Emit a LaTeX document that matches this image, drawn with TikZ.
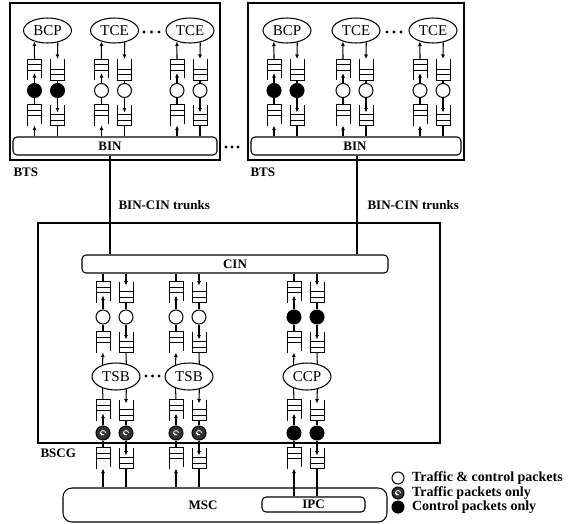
\documentclass[tikz,border=0pt]{standalone}
\usepackage{fontspec}
\setmainfont{Liberation Serif}
\usetikzlibrary{shapes.geometric,arrows.meta}

\tikzset{
  qbox/.style={minimum width=14pt, minimum height=21pt, inner sep=0pt, outer sep=0pt},
  qline/.style={line width=0.85pt},
  proc/.style={ellipse, draw, minimum width=48pt, minimum height=25pt, inner sep=0pt,
    font=\fontsize{15}{17}\selectfont},
  bar/.style={draw, rounded corners=4pt, inner sep=0pt},
  frame/.style={draw, inner sep=0pt},
  lbl/.style={font=\bfseries\fontsize{13}{15}\selectfont, inner sep=0pt},
  both/.style={circle, draw, fill=white, minimum size=14pt, inner sep=0pt},
  ctlonly/.style={both, fill=black},
  trfonly/.style={both, fill=black!80, path picture={
    \draw[white, line width=0.8pt] ([xshift=2.5pt]path picture bounding box.center)
      arc[start angle=0, end angle=250, radius=2.5pt];
    \draw[white, line width=0.8pt] ([xshift=-3pt]path picture bounding box.center)
      -- ([xshift=1pt,yshift=-2pt]path picture bounding box.center);}},
}

% queue, open at the bottom (upward traffic)
\newcommand{\upq}[3]{%
  \node[qbox] (#1) at (#2,#3+10.5) {};
  \draw[qline] (#1.south west) -- (#1.north west) -- (#1.north east) -- ([yshift=2pt]#1.south east);
  \draw[qline] ([yshift=-5.5pt]#1.north west) -- ([yshift=-5.5pt]#1.north east);
  \draw[qline] ([yshift=-11pt]#1.north west) -- ([yshift=-11pt]#1.north east);
}
% queue, open at the top (downward traffic)
\newcommand{\dnq}[3]{%
  \node[qbox] (#1) at (#2,#3+10.5) {};
  \draw[qline] (#1.north west) -- (#1.south west) -- (#1.south east) -- (#1.north east);
  \draw[qline] ([yshift=5.5pt]#1.south west) -- ([yshift=5.5pt]#1.south east);
  \draw[qline] ([yshift=11pt]#1.south west) -- ([yshift=11pt]#1.south east);
}
% one BTS processor with its queues: name, x, text, packet style, bus
\newcommand{\btscol}[5]{%
  \node[proc] (#1) at (#2,30.5) {#3};
  \upq{#1au}{#2-13}{59}
  \dnq{#1ad}{#2+10}{59}
  \node[#4] (#1pu) at (#2-13,90.5) {};
  \node[#4] (#1pd) at (#2+10,90.5) {};
  \upq{#1bu}{#2-13}{104.5}
  \dnq{#1bd}{#2+10}{104.5}
  \draw[->] (#1au.north) -- (#1.220);
  \draw[->] (#1.311) -- (#1ad.north);
  \draw[->] (#1pu) -- ([yshift=7pt]#1au.south);
  \draw (#1ad.south) -- (#1pd);
  \draw (#1bu.north) -- (#1pu);
  \draw[->] (#1pd) -- ([yshift=13pt]#1bd.south);
  \draw[->] (#1bu.south |- #5.north) -- (#1bu.south);
  \draw (#1bd.south) -- (#1bd.south |- #5.north);
}
% one BSCG processor: name, x, text, upper packets, lower packets, target below
\newcommand{\bsccol}[6]{%
  \node[proc, minimum height=27pt] (#1) at (#2,376.5) {#3};
  \upq{#1au}{#2-13}{281.5}
  \dnq{#1ad}{#2+10}{281.5}
  \node[#4] (#1pu) at (#2-13,317) {};
  \node[#4] (#1pd) at (#2+10,317) {};
  \upq{#1bu}{#2-13}{331.5}
  \dnq{#1bd}{#2+10}{331.5}
  \upq{#1cu}{#2-13}{399.5}
  \dnq{#1cd}{#2+10}{399.5}
  \node[#5] (#1qu) at (#2-13,433) {};
  \node[#5] (#1qd) at (#2+10,433) {};
  \upq{#1du}{#2-13}{447.5}
  \dnq{#1dd}{#2+10}{447.5}
  % towards CIN
  \draw (#1au.north) -- (#1au.north |- cin.south);
  \draw[->] (#1ad.north |- cin.south) -- ([yshift=-4pt]#1ad.north);
  \draw[->] (#1pu) -- ([yshift=7pt]#1au.south);
  \draw (#1ad.south) -- (#1pd);
  \draw (#1bu.north) -- (#1pu);
  \draw[->] (#1pd) -- ([yshift=13pt]#1bd.south);
  \draw[->] (#1.139) -- (#1bu.south);
  \draw (#1bd.south) -- (#1.51);
  % towards MSC
  \draw (#1cu.north) -- (#1.221);
  \draw[->] (#1.309) -- ([yshift=-4pt]#1cd.north);
  \draw[->] (#1qu) -- ([yshift=7pt]#1cu.south);
  \draw (#1cd.south) -- (#1qd);
  \draw (#1du.north) -- (#1qu);
  \draw[->] (#1qd) -- ([yshift=13pt]#1dd.south);
  \draw[->] (#1du.south |- #6.north) -- (#1du.south);
  \draw (#1dd.south) -- (#1dd.south |- #6.north);
}

\begin{document}
\begin{tikzpicture}[x=1pt, y=-1pt, line width=1.05pt, >={Latex[length=4.5pt,width=4pt]}]
  \useasboundingbox (0,0) rectangle (577,523);

  % BTS boxes
  \node[frame, minimum width=210pt, minimum height=157pt] (bts1) at (115,81.5) {};
  \node[frame, minimum width=216pt, minimum height=157pt] (bts2) at (356,81.5) {};
  \node[bar, minimum width=204pt, minimum height=18pt] (bin1) at (115,146) {};
  \node[bar, minimum width=210pt, minimum height=18pt] (bin2) at (356,146) {};
  \node[lbl] (binlbl1) at (110,146) {BIN};
  \node[lbl] (binlbl2) at (355,146) {BIN};
  \node[lbl, anchor=west] (btslbl1) at (13,172) {BTS};
  \node[lbl, anchor=west] (btslbl2) at (250,172) {BTS};

  \btscol{lbcp}{47.5}{BCP}{ctlonly}{bin1}
  \btscol{ltcea}{114.5}{TCE}{both}{bin1}
  \btscol{ltceb}{190}{TCE}{both}{bin1}
  \btscol{rbcp}{287}{BCP}{ctlonly}{bin2}
  \btscol{rtcea}{356}{TCE}{both}{bin2}
  \btscol{rtceb}{433}{TCE}{both}{bin2}

  \foreach \x in {144,151.5,159,387,394,401} \fill (\x,32) circle (1.6pt);
  \foreach \x in {226,232,238} \fill (\x,147) circle (1.6pt);

  % BSCG
  \node[frame, minimum width=402pt, minimum height=220pt] (bscg) at (239,333) {};
  \node[bar, minimum width=306pt, minimum height=18pt, lbl] (cin) at (235,264) {CIN};
  \node[lbl, anchor=west] (bscglbl) at (40,453) {BSCG};

  % trunks
  \coordinate (tk1) at (110,0);
  \coordinate (tk2) at (357,0);
  \draw (bin1.south -| tk1) -- (cin.north -| tk1);
  \draw (bin2.south -| tk2) -- (cin.north -| tk2);
  \node[lbl, anchor=west] (tklbl1) at (118,205) {BIN-CIN trunks};
  \node[lbl, anchor=west] (tklbl2) at (367,205) {BIN-CIN trunks};

  % MSC
  \node[bar, rounded corners=9pt, minimum width=324pt, minimum height=34pt] (msc) at (225,505) {};
  \node[lbl] (msclbl) at (203,505) {MSC};
  \node[bar, minimum width=103pt, minimum height=15pt, lbl] (ipc) at (313.5,504.5) {IPC};

  \bsccol{tsba}{116}{TSB}{both}{trfonly}{msc}
  \bsccol{tsbb}{189}{TSB}{both}{trfonly}{msc}
  \bsccol{ccp}{307}{CCP}{ctlonly}{ctlonly}{ipc}
  \foreach \x in {146,152.5,159} \fill (\x,376) circle (1.6pt);

  % legend
  \node[both, minimum size=12pt] (lgboth) at (398,478) {};
  \node[trfonly, minimum size=12pt] (lgtrf) at (398,493) {};
  \node[ctlonly, minimum size=12pt] (lgctl) at (398,507) {};
  \node[lbl, font=\bfseries\fontsize{14}{16}\selectfont, anchor=west] at ([xshift=7pt]lgboth.east) {Traffic \& control packets};
  \node[lbl, font=\bfseries\fontsize{14}{16}\selectfont, anchor=west] at ([xshift=7pt]lgtrf.east) {Traffic packets only};
  \node[lbl, font=\bfseries\fontsize{14}{16}\selectfont, anchor=west] at ([xshift=7pt]lgctl.east) {Control packets only};
\end{tikzpicture}
\end{document}
